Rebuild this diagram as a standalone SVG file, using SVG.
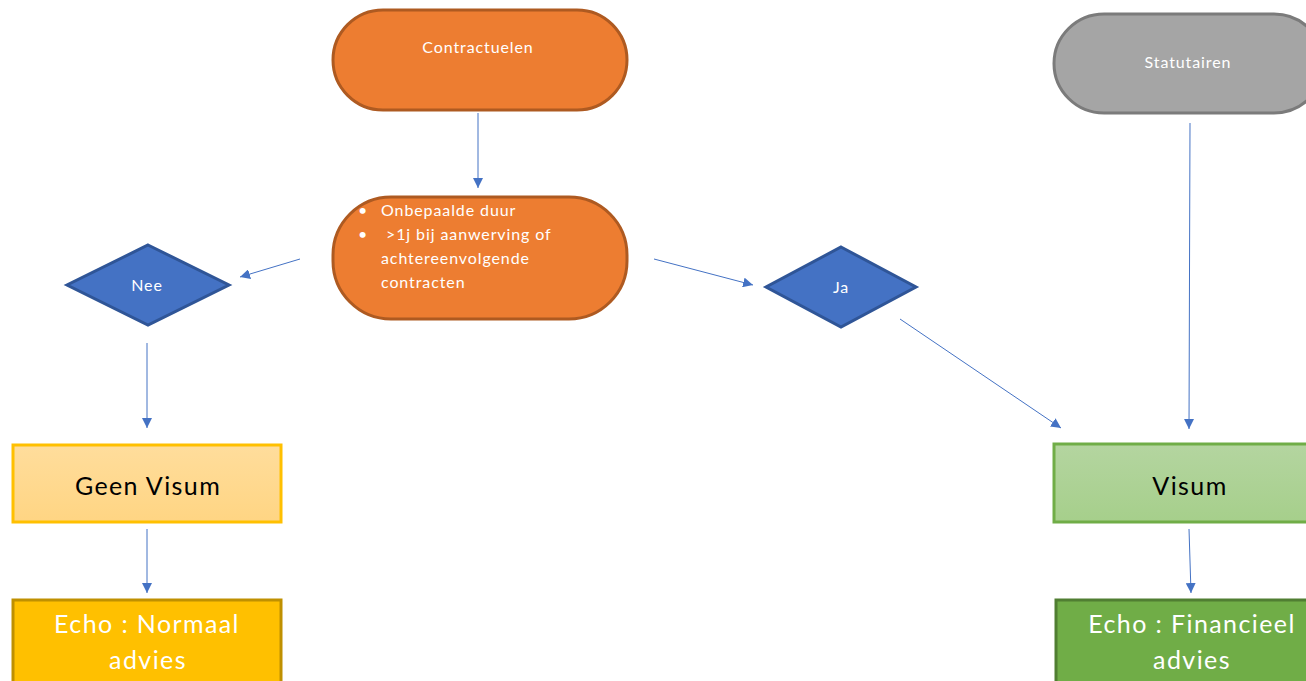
<svg xmlns="http://www.w3.org/2000/svg" width="1306" height="681" viewBox="0 0 1306 681">
<defs>
<linearGradient id="gy" x1="0" y1="0" x2="0" y2="1"><stop offset="0" stop-color="#FFDD9C"/><stop offset="1" stop-color="#FFD583"/></linearGradient>
<linearGradient id="gg" x1="0" y1="0" x2="0" y2="1"><stop offset="0" stop-color="#B4D5A0"/><stop offset="1" stop-color="#A6CF8B"/></linearGradient>
<marker id="ah" viewBox="0 0 10 10" refX="10" refY="5" markerWidth="10" markerHeight="10" markerUnits="userSpaceOnUse" orient="auto"><path d="M0,0 L10,5 L0,10 z" fill="#4472C4"/></marker>
<style>
text{font-family:Lato,"Open Sans","Liberation Sans",sans-serif}
.c{stroke:#4472C4;stroke-width:1;fill:none;marker-end:url(#ah)}
.w{fill:#fff}
.m{text-anchor:middle}
.s15{font-size:16px;letter-spacing:0.9px}
.s24{font-size:25px;letter-spacing:1.4px}
</style>
</defs>
<g id="connectors">
<line class="c" x1="478" y1="113" x2="478" y2="188"/>
<line class="c" x1="300" y1="259" x2="240" y2="277"/>
<line class="c" x1="654" y1="259" x2="753" y2="285"/>
<line class="c" x1="147" y1="343" x2="147" y2="428"/>
<line class="c" x1="900" y1="319" x2="1061" y2="428"/>
<line class="c" x1="1190" y1="123" x2="1189" y2="429"/>
<line class="c" x1="147" y1="529" x2="147" y2="593"/>
<line class="c" x1="1189" y1="529" x2="1191" y2="593"/>
</g>
<g id="contractuelen">
<rect x="333" y="10" width="294" height="100" rx="50" fill="#ED7D31" stroke="#AE5A21" stroke-width="3"/>
<text class="w m s15" x="478" y="53">Contractuelen</text>
</g>
<g id="voorwaarden">
<rect x="333" y="197" width="294" height="122" rx="58" fill="#ED7D31" stroke="#AE5A21" stroke-width="3"/>
<text class="w s15" x="358" y="216">•</text>
<text class="w s15" x="381" y="216">Onbepaalde duur</text>
<text class="w s15" x="358" y="240">•</text>
<text class="w s15" x="386" y="240">&gt;1j bij aanwerving of</text>
<text class="w s15" x="381" y="264">achtereenvolgende</text>
<text class="w s15" x="381" y="288">contracten</text>
</g>
<g id="statutairen">
<rect x="1054" y="14" width="270" height="99" rx="50" fill="#A5A5A5" stroke="#7B7B7B" stroke-width="3"/>
<text class="w m s15" x="1188" y="68">Statutairen</text>
</g>
<g id="nee">
<polygon points="148,245 229,285 148,325 67,285" fill="#4472C4" stroke="#2F5597" stroke-width="3"/>
<text class="w m s15" x="147" y="291">Nee</text>
</g>
<g id="ja">
<polygon points="841,247 916,287 841,327 766,287" fill="#4472C4" stroke="#2F5597" stroke-width="3"/>
<text class="w m s15" x="841" y="293">Ja</text>
</g>
<g id="geenvisum">
<rect x="13" y="445" width="268" height="77" fill="url(#gy)" stroke="#FFC000" stroke-width="3"/>
<text class="m s24" x="148" y="495" fill="#000">Geen Visum</text>
</g>
<g id="echonormaal">
<rect x="13" y="600" width="268" height="85" fill="#FFC000" stroke="#BF9000" stroke-width="3"/>
<text class="w m s24" x="147" y="633">Echo : Normaal</text>
<text class="w m s24" x="148" y="669">advies</text>
</g>
<g id="visum">
<rect x="1054" y="444" width="270" height="78" fill="url(#gg)" stroke="#70AD47" stroke-width="3"/>
<text class="m s24" x="1190" y="495" fill="#000">Visum</text>
</g>
<g id="echofinancieel">
<rect x="1056" y="600" width="268" height="85" fill="#70AD47" stroke="#507E32" stroke-width="3"/>
<text class="w m s24" x="1192" y="633">Echo : Financieel</text>
<text class="w m s24" x="1192" y="669">advies</text>
</g>
</svg>
